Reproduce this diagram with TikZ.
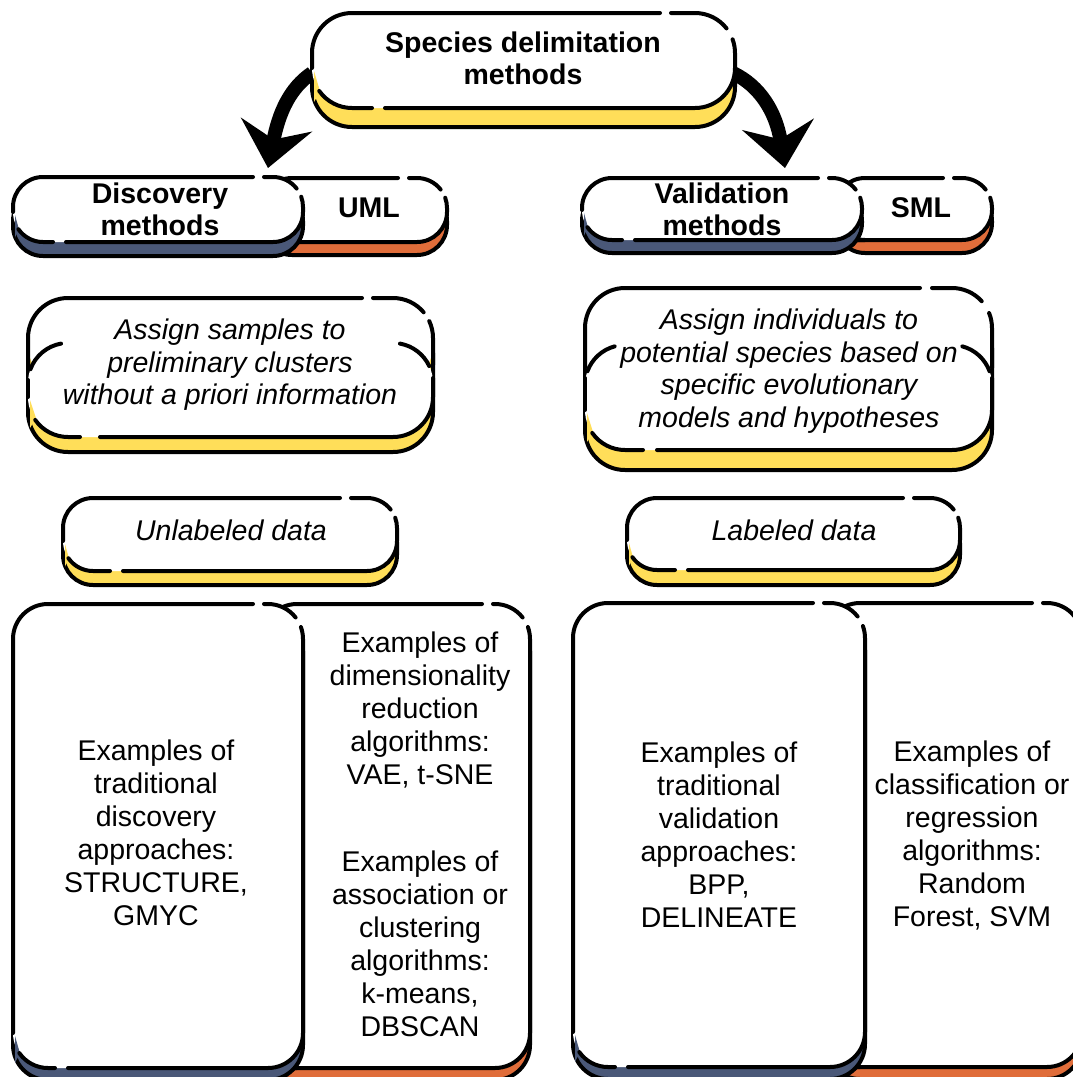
\documentclass[tikz,border=0pt]{standalone}
\usepackage{fontspec}
\setmainfont{Liberation Sans}
\usetikzlibrary{arrows.meta}

\definecolor{sdyellow}{RGB}{255,222,89}
\definecolor{sdblue}{RGB}{74,88,120}
\definecolor{sdorange}{RGB}{224,109,58}

\tikzset{
  outline/.style={line width=4pt, line cap=round, line join=round},
  boxtext/.style={align=center, inner sep=0pt, font=\fontsize{28.5}{33}\selectfont},
  headtext/.style={boxtext, font=\fontsize{28.5}{32}\selectfont\bfseries},
  notetext/.style={boxtext, font=\fontsize{28.5}{32.5}\selectfont\itshape},
  bigarrow/.style={line width=14pt, -{Stealth[length=44pt,width=72pt,inset=15pt]}}
}

% sketchy box: coloured shadow, white front, broken outline
% #1,#2 top left  #3,#4 bottom right  #5 radius  #6 depth  #7 colour  #8 top gap  #9 bottom gap
\newcommand{\sketchbox}[9]{%
  \draw[outline, fill=#7, rounded corners=#5pt] (#1,#2+#6) rectangle (#3,#4+#6);
  \fill[white, rounded corners=#5pt] (#1,#2) rectangle (#3,#4);
  \fill[#7] (#1+2,#4-#5+3) -- (#1+0.2*#5,#4-0.42*#5) -- (#1+2,#4-0.15*#5) -- cycle;
  \draw[outline] (#1,#4-#5) -- (#1,#2+#5) arc (180:270:#5) -- (#8,#2);
  \draw[outline] (#8+11,#2) -- (#3-#5,#2) arc (270:322:#5);
  \draw[outline] (#3-#5,#2+#5) ++(340:#5) arc (340:360:#5) -- (#3,#4-#5) arc (0:90:#5) -- (#9+13,#4);
  \draw[outline] (#9,#4) -- (#1+#5,#4) arc (90:145:#5);
}

\begin{document}
\begin{tikzpicture}[x=1pt,y=-1pt]
\useasboundingbox (0,0) rectangle (1073,1077);
\clip (0,0) rectangle (1073,1077);

% Arrows out of the title box
\coordinate (titleW) at (312,73);
\coordinate (titleE) at (733,73);
\coordinate (discTip) at (268,168);
\coordinate (validTip) at (785,168);
\draw[bigarrow] (titleW) .. controls (290,88) and (279,112) .. (discTip);
\draw[bigarrow] (titleE) .. controls (760,86) and (776,112) .. (validTip);

% Title
\sketchbox{312}{13}{735}{108}{40}{19}{sdyellow}{660}{372}
\node[headtext] (title) at (523,58) {Species delimitation\\methods};

% Discovery / UML
\sketchbox{262}{178}{447}{242}{30}{13}{sdorange}{398}{267}
\sketchbox{13}{177}{303}{242}{30}{14}{sdblue}{253}{53}
\node[headtext] (disc) at (160,209) {Discovery\\methods};
\node[headtext] (uml) at (369,208) {UML};

% Validation / SML
\sketchbox{835}{178}{992}{240}{30}{13}{sdorange}{943}{840}
\sketchbox{582}{178}{862}{240}{30}{13}{sdblue}{818}{622}
\node[headtext] (valid) at (722,209) {Validation\\methods};
\node[headtext] (sml) at (921,208) {SML};

% Assign samples (two stacked pills)
\draw[outline, fill=sdyellow, rounded corners=40pt] (28,313) rectangle (433,452);
\fill[white, rounded corners=40pt] (28,298) rectangle (433,385);
\fill[white, rounded corners=40pt] (28,343) rectangle (433,437);
\fill[sdyellow] (30,400) -- (36,418) -- (30,428) -- cycle;
\draw[outline] (28,365) -- (28,338) arc (180:270:40) -- (362,298);
\draw[outline] (373,298) -- (393,298) arc (270:320:40);
\draw[outline] (393,338) ++(335:40) arc (335:360:40) -- (433,365);
\draw[outline] (68,383) ++(200:40) arc (200:260:40);
\draw[outline] (393,383) ++(280:40) arc (280:335:40);
\draw[outline] (28,380) -- (28,397);
\draw[outline] (68,397) ++(145:40) arc (145:90:40) -- (80,437);
\draw[outline] (100,437) -- (393,437) arc (90:0:40) -- (433,378);
\node[notetext] (assignL) at (230,365) {Assign samples to\\preliminary clusters\\without a priori information};

% Assign individuals (two stacked pills)
\draw[outline, fill=sdyellow, rounded corners=40pt] (585,308) rectangle (992,470);
\fill[white, rounded corners=40pt] (585,288) rectangle (992,400);
\fill[white, rounded corners=40pt] (585,345) rectangle (992,450);
\fill[sdyellow] (587,413) -- (593,432) -- (587,442) -- cycle;
\draw[outline] (585,368) -- (585,328) arc (180:270:40) -- (920,288);
\draw[outline] (932,288) -- (952,288) arc (270:318:40);
\draw[outline] (952,328) ++(338:40) arc (338:360:40) -- (992,368);
\draw[outline] (625,385) ++(200:40) arc (200:255:40);
\draw[outline] (952,385) ++(285:40) arc (285:340:40);
\draw[outline] (585,378) -- (585,410);
\draw[outline] (625,410) ++(145:40) arc (145:90:40) -- (643,450);
\draw[outline] (657,450) -- (952,450) arc (90:0:40) -- (992,378);
\node[notetext] (assignR) at (789,371) {Assign individuals to\\potential species based on\\specific evolutionary\\models and hypotheses};

% Data boxes
\sketchbox{63}{498}{397}{571}{30}{14}{sdyellow}{340}{110}
\node[notetext] (unlab) at (231,530) {Unlabeled data};
\sketchbox{627}{498}{960}{570}{30}{15}{sdyellow}{903}{675}
\node[notetext] (lab) at (794,530) {Labeled data};

% Examples, discovery side
\sketchbox{262}{604}{530}{1068}{35}{12}{sdorange}{482}{267}
\sketchbox{13}{604}{303}{1068}{35}{12}{sdblue}{253}{55}
\node[boxtext] (tradL) at (156,833) {Examples of\\traditional\\discovery\\approaches:\\STRUCTURE,\\GMYC};
\node[boxtext] (dimred) at (420,710) {Examples of\\dimensionality\\reduction\\algorithms:\\VAE, t-SNE};
\node[boxtext] (assoc) at (420,944) {Examples of\\association or\\clustering\\algorithms:\\k-means,\\DBSCAN};

% Examples, validation side
\sketchbox{825}{603}{1082}{1067}{35}{12}{sdorange}{1032}{830}
\sketchbox{573}{603}{865}{1067}{35}{12}{sdblue}{813}{615}
\node[boxtext] (tradR) at (719,835) {Examples of\\traditional\\validation\\approaches:\\BPP,\\DELINEATE};
\node[boxtext] (classif) at (972,835) {Examples of\\classification or\\regression\\algorithms:\\Random\\Forest, SVM};
\end{tikzpicture}
\end{document}
